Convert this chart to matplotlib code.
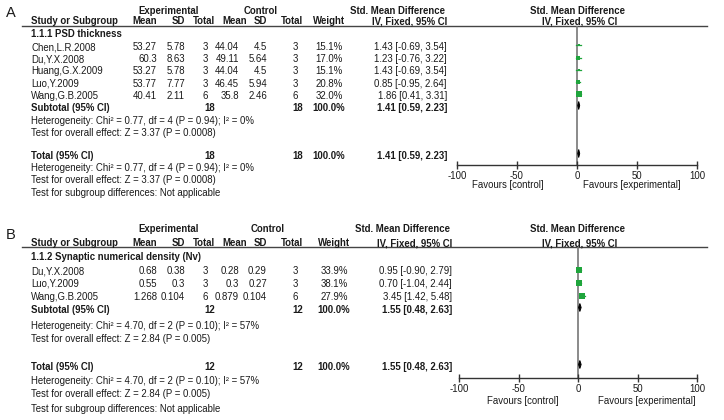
import matplotlib
matplotlib.use("Agg")
import matplotlib.pyplot as plt
from matplotlib.patches import Polygon

plt.rcParams['font.family'] = ['Liberation Sans', 'DejaVu Sans']

# ---------------- data: panel A ----------------
A_subgroup = "1.1.1 PSD thickness"
A_studies = ["Chen,L.R.2008", "Du,Y.X.2008", "Huang,G.X.2009", "Luo,Y.2009", "Wang,G.B.2005"]
A_exp_mean = [53.27, 60.3, 53.27, 53.77, 40.41]
A_exp_sd = [5.78, 8.63, 5.78, 7.77, 2.11]
A_exp_n = [3, 3, 3, 3, 6]
A_ctl_mean = [44.04, 49.11, 44.04, 46.45, 35.8]
A_ctl_sd = [4.5, 5.64, 4.5, 5.94, 2.46]
A_ctl_n = [3, 3, 3, 3, 6]
A_weight = [15.1, 17.0, 15.1, 20.8, 32.0]
A_smd = [1.43, 1.23, 1.43, 0.85, 1.86]
A_lo = [-0.69, -0.76, -0.69, -0.95, 0.41]
A_hi = [3.54, 3.22, 3.54, 2.64, 3.31]
A_pooled = [1.41, 0.59, 2.23]
A_het = "Heterogeneity: Chi² = 0.77, df = 4 (P = 0.94); I² = 0%"
A_z = "Test for overall effect: Z = 3.37 (P = 0.0008)"

# ---------------- data: panel B ----------------
B_subgroup = "1.1.2 Synaptic numerical density (Nv)"
B_studies = ["Du,Y.X.2008", "Luo,Y.2009", "Wang,G.B.2005"]
B_exp_mean = [0.68, 0.55, 1.268]
B_exp_sd = [0.38, 0.3, 0.104]
B_exp_n = [3, 3, 6]
B_ctl_mean = [0.28, 0.3, 0.879]
B_ctl_sd = [0.29, 0.27, 0.104]
B_ctl_n = [3, 3, 6]
B_weight = [33.9, 38.1, 27.9]
B_smd = [0.95, 0.70, 3.45]
B_lo = [-0.90, -1.04, 1.42]
B_hi = [2.79, 2.44, 5.48]
B_pooled = [1.55, 0.48, 2.63]
B_het = "Heterogeneity: Chi² = 4.70, df = 2 (P = 0.10); I² = 57%"
B_z = "Test for overall effect: Z = 2.84 (P = 0.005)"

x_ticks = [-100, -50, 0, 50, 100]
subgroup_test = "Test for subgroup differences: Not applicable"

W, H = 724, 420
fig = plt.figure(figsize=(W / 100, H / 100), dpi=100)
tax = fig.add_axes([0, 0, 1, 1])
tax.set_xlim(0, W)
tax.set_ylim(H, 0)
tax.axis('off')

FS = 6.9
TC = '#1a1a1a'
GREEN = '#1fa53c'


def t(x, y, s, ha='left', bold=False, size=FS):
    tax.text(x, y, s, ha=ha, va='center', fontsize=size, color=TC,
             fontweight='bold' if bold else 'normal')


def panel(label, lay, subgroup, studies, em, esd, en, cm, csd, cn, wt, smd, lo, hi,
          pooled, het, z):
    t(6, lay['label'], label, size=10.5)
    h1, h2 = lay['h1'], lay['h2']
    t(169, h1, "Experimental", ha='center', bold=True)
    t(lay['ctl_c'], h1, "Control", ha='center', bold=True)
    t(lay['smd_r'] - 2, h1, "Std. Mean Difference", ha='right', bold=True)
    t(578, h1, "Std. Mean Difference", ha='center', bold=True)
    t(31, h2, "Study or Subgroup", bold=True)
    t(157, h2, "Mean", ha='right', bold=True)
    t(185, h2, "SD", ha='right', bold=True)
    t(215, h2, "Total", ha='right', bold=True)
    t(247, h2, "Mean", ha='right', bold=True)
    t(267, h2, "SD", ha='right', bold=True)
    t(303, h2, "Total", ha='right', bold=True)
    t(lay['w_r'] + 2, h2, "Weight", ha='right', bold=True)
    t(lay['smd_r'], h2, "IV, Fixed, 95% CI", ha='right', bold=True)
    t(580, h2, "IV, Fixed, 95% CI", ha='center', bold=True)
    tax.plot([22, 707], [lay['line'], lay['line']], color='#444444', lw=1.0)
    t(31, lay['sub'], subgroup, bold=True)

    rows = [lay['r0'] + i * lay['dr'] for i in range(len(studies))]
    for i, y in enumerate(rows):
        t(31, y, studies[i])
        t(157, y, str(em[i]), ha='right')
        t(185, y, str(esd[i]), ha='right')
        t(208, y, str(en[i]), ha='right')
        t(lay['cm_r'], y, str(cm[i]), ha='right')
        t(267, y, str(csd[i]), ha='right')
        t(298, y, str(cn[i]), ha='right')
        t(lay['w_r'], y, f"{wt[i]:.1f}%", ha='right')
        t(lay['smd_r'], y, f"{smd[i]:.2f} [{lo[i]:.2f}, {hi[i]:.2f}]", ha='right')

    ne, nc = sum(en), sum(cn)
    pooled_txt = f"{pooled[0]:.2f} [{pooled[1]:.2f}, {pooled[2]:.2f}]"
    for ytot, name in [(lay['subtot'], "Subtotal (95% CI)"), (lay['tot'], "Total (95% CI)")]:
        t(31, ytot, name, bold=True)
        t(215, ytot, str(ne), ha='right', bold=True)
        t(303, ytot, str(nc), ha='right', bold=True)
        t(lay['w_r'] + 2, ytot, "100.0%", ha='right', bold=True)
        t(lay['smd_r'], ytot, pooled_txt, ha='right', bold=True)
    t(31, lay['het1'], het)
    t(31, lay['z1'], z)
    t(31, lay['het2'], het)
    t(31, lay['z2'], z)
    t(31, lay['sgt'], subgroup_test)

    # forest axes
    x0, x1 = lay['fx0'], lay['fx1']
    ytop, ybot = lay['line'], lay['axis']
    fax = fig.add_axes([x0 / W, 1 - ybot / H, (x1 - x0) / W, (ybot - ytop) / H])
    fax.set_xlim(x_ticks[0], x_ticks[-1])
    fax.set_ylim(ybot, ytop)
    fax.patch.set_visible(False)
    for s in ['top', 'right', 'left']:
        fax.spines[s].set_visible(False)
    fax.spines['bottom'].set_color('#333333')
    fax.spines['bottom'].set_linewidth(1.0)
    fax.set_yticks([])
    fax.set_xticks(x_ticks)
    fax.set_xticklabels([str(v) for v in x_ticks])
    fax.tick_params(axis='x', direction='inout', length=6, width=1.0, color='#333333',
                    labelsize=FS, labelcolor=TC, pad=1)
    fax.axvline(0, color='#777777', lw=1.2, zorder=1)
    for i, y in enumerate(rows):
        ym = y - 1.5
        fax.plot([lo[i], hi[i]], [ym, ym], color=GREEN, lw=0.9, zorder=2)
        side_pt = 0.18 * wt[i] * 0.72
        fax.scatter([smd[i]], [ym], marker='s', s=side_pt ** 2, color=GREEN,
                    linewidths=0, zorder=3)
    for ytot in (lay['subtot'], lay['tot']):
        yd = ytot - 2.5
        est, l, h = pooled
        poly = Polygon([(l, yd), (est, yd - 4), (h, yd), (est, yd + 4)], closed=True,
                       facecolor='black', edgecolor='black', lw=0.7, zorder=4)
        fax.add_patch(poly)
    t(lay['fav_c'], lay['fav'], "Favours [control]", ha='center')
    t(lay['fav_e'], lay['fav'], "Favours [experimental]", ha='center')


layA = dict(label=13, h1=11, h2=21, line=26, sub=34, r0=47, dr=12.2,
            subtot=108, het1=120.5, z1=132.5, tot=156, het2=168, z2=180, sgt=193,
            ctl_c=261, cm_r=239, w_r=343, smd_r=447, fx0=457, fx1=697, axis=165,
            fav=185, fav_c=508, fav_e=632)
layB = dict(label=235, h1=229, h2=243, line=247, sub=257, r0=271, dr=13,
            subtot=310, het1=326, z1=339, tot=367, het2=381, z2=394, sgt=409,
            ctl_c=268, cm_r=239, w_r=348, smd_r=452, fx0=459, fx1=697, axis=378,
            fav=401, fav_c=523, fav_e=647)

panel("A", layA, A_subgroup, A_studies, A_exp_mean, A_exp_sd, A_exp_n, A_ctl_mean,
      A_ctl_sd, A_ctl_n, A_weight, A_smd, A_lo, A_hi, A_pooled, A_het, A_z)
panel("B", layB, B_subgroup, B_studies, B_exp_mean, B_exp_sd, B_exp_n, B_ctl_mean,
      B_ctl_sd, B_ctl_n, B_weight, B_smd, B_lo, B_hi, B_pooled, B_het, B_z)

fig.savefig("out.png", dpi=100, facecolor='white')
